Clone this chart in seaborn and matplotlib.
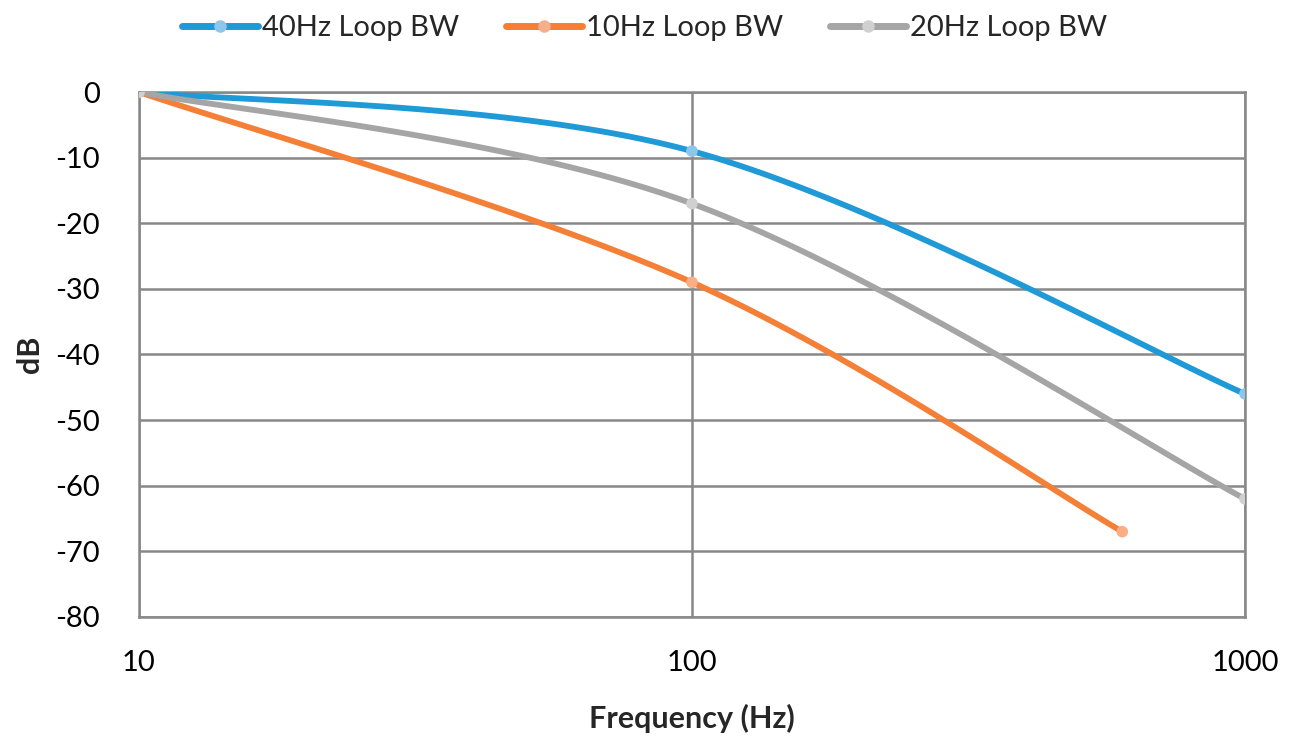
import numpy as np
import pandas as pd
import matplotlib
matplotlib.use("Agg")
import matplotlib.pyplot as plt
import seaborn as sns
from matplotlib.lines import Line2D

# data points (Hz, dB)
freq_40 = [10, 100, 1000]
db_40 = [0, -9, -46]
freq_10 = [10, 100, 600]
db_10 = [0, -29, -67]
freq_20 = [10, 100, 1000]
db_20 = [0, -17, -62]

labels = ["40Hz Loop BW", "10Hz Loop BW", "20Hz Loop BW"]
line_colors = ["#1f9ad6", "#f47f37", "#a5a5a5"]
marker_colors = ["#8cc6ec", "#f9ae86", "#d0d0d0"]


def smooth(xs, ys, n=60):
    """Excel-style smoothed line: cubic Bezier segments in (log x, y) space"""
    px = np.log10(np.asarray(xs, float))
    py = np.asarray(ys, float)
    pts = np.column_stack([px, py])
    m = len(pts)
    out = []
    for i in range(m - 1):
        p0 = pts[max(i - 1, 0)]
        p1 = pts[i]
        p2 = pts[i + 1]
        p3 = pts[min(i + 2, m - 1)]
        c1 = p1 + (p2 - p0) / 6
        c2 = p2 - (p3 - p1) / 6
        t = np.linspace(0, 1, n)[:, None]
        seg = ((1 - t) ** 3) * p1 + 3 * ((1 - t) ** 2) * t * c1 + 3 * (1 - t) * t ** 2 * c2 + t ** 3 * p2
        out.append(seg if i == 0 else seg[1:])
    out = np.vstack(out)
    return 10 ** out[:, 0], out[:, 1]


sns.set_style("white")
plt.rcParams["font.family"] = ["Lato", "DejaVu Sans"]
plt.rcParams["axes.unicode_minus"] = False

fig = plt.figure(figsize=(12.89, 7.38), dpi=100)
ax = fig.add_axes([0.1078, 0.164, 0.858, 0.7113])

series = [(freq_40, db_40), (freq_10, db_10), (freq_20, db_20)]
for (fx, fy), lab, lc, mc in zip(series, labels, line_colors, marker_colors):
    sx, sy = smooth(fx, fy)
    curve = pd.DataFrame({"freq": sx, "db": sy})
    sns.lineplot(data=curve, x="freq", y="db", sort=False, color=lc, lw=4.2,
                 solid_capstyle="round", ax=ax, zorder=3)
    pts = pd.DataFrame({"freq": fx, "db": fy})
    sns.scatterplot(data=pts, x="freq", y="db", color=mc, s=70, edgecolor="none",
                    ax=ax, zorder=4)

ax.set_xscale("log")
ax.set_xlim(10, 1000)
ax.set_ylim(-80, 0)
ax.set_xticks([10, 100, 1000])
ax.set_xticklabels(["10", "100", "1000"])
ax.minorticks_off()
ax.set_yticks(range(-80, 1, 10))
ax.grid(True, color="#888888", lw=1.8)
for s in ax.spines.values():
    s.set_color("#888888")
    s.set_linewidth(1.8)
ax.tick_params(axis="both", length=0, labelsize=21, colors="black")
ax.tick_params(axis="y", pad=28)
ax.tick_params(axis="x", pad=24)

ax.set_xlabel("Frequency (Hz)", fontsize=22, fontweight="bold", labelpad=20)
ax.set_ylabel("dB", fontsize=22, fontweight="bold", labelpad=8)

handles = [Line2D([0], [0], color=lc, lw=5, marker="o", markersize=8,
                  markerfacecolor=mc, markeredgecolor=mc, solid_capstyle="round")
           for lc, mc in zip(line_colors, marker_colors)]
fig.legend(handles, labels, loc="upper center", bbox_to_anchor=(0.5, 1.015), ncol=3,
           frameon=False, fontsize=21, handlelength=2.6, handletextpad=0.15,
           columnspacing=1.6)

fig.savefig("out.png", dpi=100)
